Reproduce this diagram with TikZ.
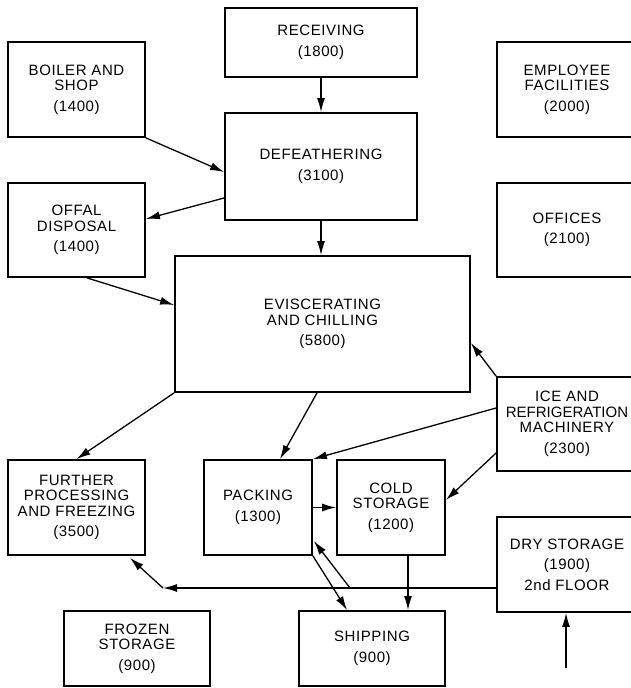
\documentclass[tikz,border=0pt]{standalone}
\usepackage{fontspec}
\setmainfont{Liberation Sans}[LetterSpace=4]
\usetikzlibrary{arrows.meta,calc}
\begin{document}
\begin{tikzpicture}[x=1pt,y=-1pt,
 box/.style={draw,line width=1.8pt,inner sep=0pt,align=center,font=\fontsize{15}{15.5}\selectfont},
 arr/.style={line width=1.3pt,-{Latex[length=14pt,width=8pt]}},
 ln/.style={line width=1.3pt}]
\useasboundingbox (0,0) rectangle (630,688);
\node[box,minimum width=192pt,minimum height=69pt] (rec) at (321,42.5) {RECEIVING\\[5pt](1800)};
\node[box,minimum width=137pt,minimum height=95pt] (boil) at (76.5,89.5) {BOILER AND\\SHOP\\[5pt](1400)};
\node[box,minimum width=192pt,minimum height=107pt] (def) at (321,166.5) {DEFEATHERING\\[5pt](3100)};
\node[box,minimum width=137pt,minimum height=94pt] (off) at (76.5,230) {OFFAL\\DISPOSAL\\[5pt](1400)};
\node[box,minimum width=140pt,minimum height=95pt] (emp) at (567,89.5) {EMPLOYEE\\FACILITIES\\[5pt](2000)};
\node[box,minimum width=140pt,minimum height=94pt] (offi) at (567,230) {OFFICES\\[5pt](2100)};
\node[box,minimum width=295pt,minimum height=136pt] (ev) at (322.5,324) {EVISCERATING\\AND CHILLING\\[5pt](5800)};
\node[box,minimum width=140pt,minimum height=94pt] (ice) at (567,424) {ICE AND\\{\addfontfeature{LetterSpace=0}REFRIGERATION}\\MACHINERY\\[5pt](2300)};
\node[box,minimum width=137pt,minimum height=95pt] (fur) at (76.5,507.5) {FURTHER\\PROCESSING\\AND FREEZING\\[5pt](3500)};
\node[box,minimum width=108pt,minimum height=95pt] (pack) at (258,507.5) {PACKING\\[5pt](1300)};
\node[box,minimum width=108pt,minimum height=95pt] (cold) at (391,507.5) {COLD\\STORAGE\\[5pt](1200)};
\node[box,minimum width=140pt,minimum height=95pt] (dry) at (567,564.5) {DRY STORAGE\\[5pt](1900)\\[5pt]2nd FLOOR};
\node[box,minimum width=146pt,minimum height=75pt] (froz) at (137,648.5) {FROZEN\\STORAGE\\[5pt](900)};
\node[box,minimum width=146pt,minimum height=75pt] (ship) at (372,648.5) {SHIPPING\\[5pt](900)};
\coordinate (j1) at (350,588);
\coordinate (j2) at (163,588);
\coordinate (src) at (566,668);
\draw[arr] (rec.south) -- (def.north);
\draw[arr] (boil.south east) -- ($(def.west)+(0,5.5)$);
\draw[arr] ($(def.west)+(0,31.5)$) -- ($(off.east)+(0,-11)$);
\draw[arr] (def.south) -- (ev.north -| def.south);
\draw[arr] ($(off.south)+(10.5,0)$) -- ($(ev.west)+(0,-19)$);
\draw[arr] (ice.north west) -- ($(ev.east)+(0,19)$);
\draw[arr] (ev.south west) -- (fur.north);
\draw[arr] ($(ev.south)+(-5.5,0)$) -- ($(pack.north)+(22,0)$);
\draw[arr] ($(ice.west)+(0,-16)$) -- (pack.north east);
\draw[arr] ($(ice.west)+(0,29)$) -- ($(cold.east)+(0,-7.5)$);
\draw[arr] (pack.east) -- (cold.west);
\draw[arr] ($(cold.south)+(17,0)$) -- ($(ship.north)+(36,0)$);
\draw[arr] (pack.south east) -- ($(ship.north west)+(49,0)$);
\draw[ln] ($(dry.west)+(0,23.5)$) -- (j1);
\draw[arr] (j1) -- (j2);
\draw[arr] (j2) -- ($(fur.south)+(53.5,2)$);
\draw[arr] (j1) -- ($(pack.east)+(1,33.5)$);
\draw[arr] (src) -- (src |- dry.south);
\end{tikzpicture}
\end{document}
